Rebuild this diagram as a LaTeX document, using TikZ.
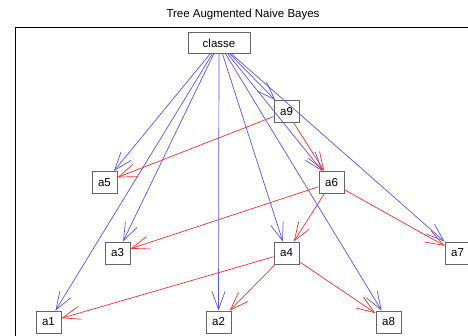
\documentclass[tikz,border=0pt]{standalone}
\usepackage{fontspec}
\setmainfont{Liberation Sans}
\usetikzlibrary{arrows.meta}
\definecolor{tanblue}{RGB}{85,85,255}
\definecolor{tanred}{RGB}{255,45,45}
\tikzset{
  var/.style={draw=black!60, line width=0.9pt, fill=white, minimum width=25pt, minimum height=22pt, inner sep=0pt, font=\fontsize{11.5}{13}\selectfont},
  cls/.style={tanblue, line width=0.7pt, -{Straight Barb[length=18pt,width=13pt]}},
  dep/.style={tanred, line width=0.7pt, -{Straight Barb[length=18pt,width=13pt]}}
}

\begin{document}
\begin{tikzpicture}[x=1pt,y=-1pt]
\useasboundingbox (0,0) rectangle (468,336);
\draw[line width=0.9pt] (15,345) -- (15,27) -- (480,27);
\node[font=\fontsize{11.5}{13}\selectfont] (title) at (243,15) {Tree Augmented Naive Bayes};
\node[var, minimum width=62pt, minimum height=21pt] (classe) at (219,43) {classe};
\node[var] (a9) at (286.5,111.5) {a9};
\node[var] (a5) at (104.5,182.5) {a5};
\node[var] (a6) at (331.5,182.5) {a6};
\node[var] (a3) at (117.5,253) {a3};
\node[var] (a4) at (286.5,253) {a4};
\node[var] (a7) at (457.5,253) {a7};
\node[var] (a1) at (48.5,322) {a1};
\node[var] (a2) at (218.5,322) {a2};
\node[var] (a8) at (388.5,322) {a8};
\foreach \i in {1,...,9}
  \draw[cls] (classe) -- (a\i);
\foreach \s/\t in {a9/a5, a9/a6, a6/a3, a6/a4, a6/a7, a4/a1, a4/a2, a4/a8}
  \draw[dep] (\s) -- (\t);
\end{tikzpicture}
\end{document}
